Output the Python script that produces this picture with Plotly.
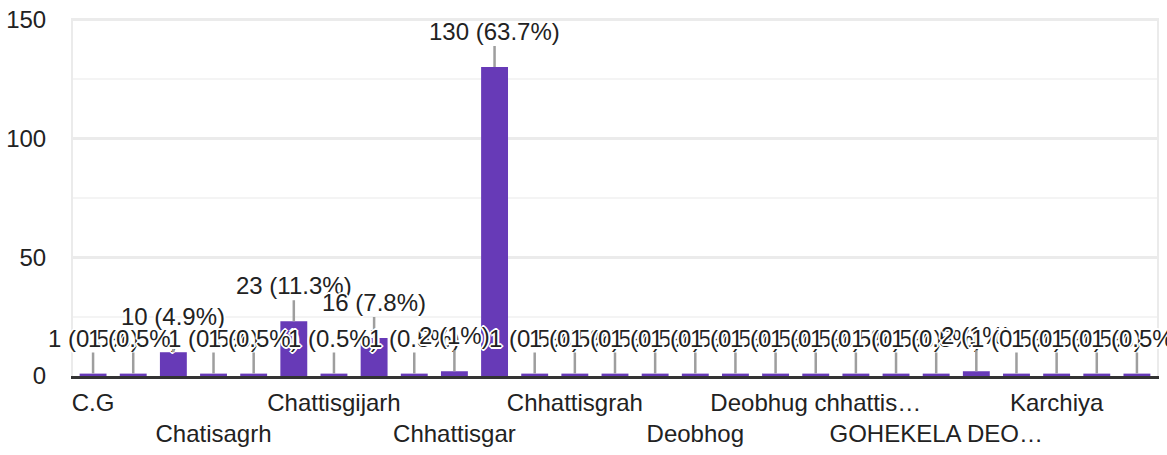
import plotly.graph_objects as go

categories = [
    "C.G", "C.G.", "CG", "Chatisagrh", "Chatisgarh", "Chattisgarh",
    "Chattisgijarh", "Chhatisgarh", "Chhattisagarh", "Chhattisgar", "Chhattisgarh",
    "Chhattisgarh.", "Chhattisgrah", "Chhattishgarh", "Chhhattisgarh", "Deobhog",
    "Deobhog chhattisgarh", "Deobhog, Chhattisgarh", "Deobhug chhattisgarh",
    "Devbhog", "Gariyaband", "GOHEKELA DEOBHOG", "Gohekela", "Jhakharpara",
    "Karchiya", "Kodoparali", "Raipur",
]
values = [1, 1, 10, 1, 1, 23, 1, 16, 1, 2, 130, 1, 1, 1, 1, 1, 1, 1, 1, 1, 1, 1, 2, 1, 1, 1, 1]

tick_labels = [
    "C.G", "Chatisagrh", "Chattisgijarh", "Chhattisgar", "Chhattisgrah",
    "Deobhog", "Deobhug chhattis…", "GOHEKELA DEO…", "Karchiya",
]
tick_positions = categories[0::3]

y_ticks = [0, 50, 100, 150]

total = sum(values)

FONT = "Arial, 'Liberation Sans', sans-serif"
BAR = "#673ab7"
TXT = "#222222"
FS = 24

fig = go.Figure(go.Bar(
    x=categories, y=values, marker=dict(color=BAR, line=dict(width=0)),
    hoverinfo="skip",
))

halo = ("white 2px 0px 0px, white -2px 0px 0px, white 0px 2px 0px, white 0px -2px 0px, "
        "white 1px 1px 0px, white -1px -1px 0px, white 1px -1px 0px, white -1px 1px 0px")

def fmt_pct(v):
    p = round(v / total * 100, 1)
    s = f"{p:.1f}"
    if s.endswith(".0"):
        s = s[:-2]
    return s

for c, v in zip(categories, values):
    fig.add_annotation(
        x=c, y=v, text=f"{v} ({fmt_pct(v)}%)",
        showarrow=True, arrowhead=0, arrowwidth=2.5, arrowcolor="#9e9e9e",
        ax=0, ay=-21, yanchor="bottom", xanchor="center",
        font=dict(family=FONT, size=FS, color=TXT, shadow=halo),
        borderpad=0,
    )

ticktext = [("<br>" + t) if i % 2 == 1 else t for i, t in enumerate(tick_labels)]

fig.update_layout(
    template="none",
    width=1167, height=455,
    margin=dict(l=73, r=10, t=18, b=79, autoexpand=False),
    paper_bgcolor="white", plot_bgcolor="white",
    bargap=0.33, showlegend=False,
    font=dict(family=FONT, size=FS, color=TXT),
    xaxis=dict(
        automargin=False,
        tickmode="array", tickvals=tick_positions, ticktext=ticktext,
        tickangle=0, showgrid=False, ticks="", ticklabelstandoff=3,
        showline=True, linecolor="#333333", linewidth=3,
        tickfont=dict(family=FONT, size=FS, color=TXT),
        range=[-0.5, len(categories) - 0.5],
    ),
    yaxis=dict(
        automargin=False,
        range=[0, 150.6], tickmode="array", tickvals=y_ticks,
        showgrid=True, gridcolor="#ebebeb", gridwidth=3,
        minor=dict(dtick=25, showgrid=True, gridcolor="#f4f4f4", gridwidth=2),
        zeroline=False, showline=True, mirror=True, linecolor="#ebebeb", linewidth=2,
        ticks="", ticklabelstandoff=20, ticklabeloverflow="allow",
        tickfont=dict(family=FONT, size=FS, color=TXT),
    ),
)

fig.write_html(
    "out.html",
    config={"displayModeBar": False},
    post_script="document.body.style.margin='0';document.body.style.padding='0';",
)
